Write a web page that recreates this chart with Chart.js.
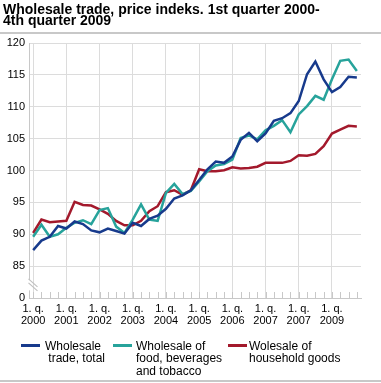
<!DOCTYPE html>
<html>
<head>
<meta charset="utf-8">
<script src="https://cdn.jsdelivr.net/npm/chart.js@4.4.0/dist/chart.umd.min.js"></script>
<style>
  html, body { margin: 0; padding: 0; background: #fff; }
  #wrap { position: relative; width: 381px; height: 383px; overflow: hidden; font-family: "Liberation Sans", Arial, sans-serif; }
  #title { position: absolute; left: 3px; top: 4px; font-weight: bold; font-size: 14px; line-height: 11.3px; color: #000; white-space: nowrap; }
  .hr { position: absolute; left: 0; width: 381px; height: 2px; background: #c8c8c8; }
  canvas { position: absolute; left: 0; top: 0; }
  .leg { position: absolute; font-size: 12px; line-height: 12.3px; color: #000; white-space: nowrap; }
  .sw { position: absolute; height: 3px; }
</style>
</head>
<body>
<div id="wrap">
  <canvas id="c" width="381" height="383"></canvas>
  <div id="title">Wholesale trade, price indeks. 1st quarter 2000-<br>4th quarter 2009</div>
  <div class="hr" style="top:32px"></div>
  <div class="sw" style="left:21px;top:344px;width:19px;background:#173a8c"></div>
  <div class="leg" style="left:45px;top:340px">Wholesale<br>&nbsp;trade, total</div>
  <div class="sw" style="left:113px;top:344px;width:19px;background:#27a39b"></div>
  <div class="leg" style="left:136px;top:340px">Wholesale of<br>food, beverages<br>and tobacco</div>
  <div class="sw" style="left:228px;top:344px;width:19px;background:#a3192c"></div>
  <div class="leg" style="left:249px;top:340px">Wolesale of<br>household goods</div>
  <div class="hr" style="top:380px"></div>
</div>
<script>
const quarterCount = 40;
const yearLabels = ["2000","2001","2002","2003","2004","2005","2006","2007","2007","2009"];
const seriesNames = ["Wholesale trade, total","Wholesale of food, beverages and tobacco","Wolesale of household goods"];
const totalValues = [87.5, 89.0, 89.6, 91.3, 90.9, 92.0, 91.6, 90.6, 90.3, 90.9, 90.5, 90.1, 91.8, 91.3, 92.4, 92.9, 94.0, 95.6, 96.1, 96.9, 98.5, 100.2, 101.4, 101.2, 102.2, 104.8, 105.9, 104.6, 105.8, 107.8, 108.2, 109.0, 110.9, 115.1, 117.1, 114.3, 112.3, 113.1, 114.7, 114.6];
const foodValues = [89.6, 91.5, 89.6, 90.0, 91.0, 91.8, 92.2, 91.6, 93.8, 94.1, 91.2, 90.2, 92.3, 94.7, 92.3, 92.1, 96.5, 97.9, 96.3, 96.8, 98.3, 99.9, 100.8, 101.0, 101.7, 105.1, 105.5, 104.9, 106.3, 107.0, 107.9, 106.0, 108.8, 110.1, 111.7, 111.1, 114.3, 117.2, 117.4, 115.6];
const householdValues = [90.2, 92.3, 91.9, 92.0, 92.1, 95.1, 94.6, 94.5, 93.9, 93.2, 92.1, 91.4, 91.4, 92.1, 93.6, 94.4, 96.6, 96.9, 96.2, 96.9, 100.2, 99.9, 99.9, 100.05, 100.5, 100.3, 100.4, 100.6, 101.2, 101.2, 101.2, 101.5, 102.4, 102.3, 102.6, 103.8, 105.8, 106.4, 107.0, 106.9];
const yTickValues = [80, 85, 90, 95, 100, 105, 110, 115, 120];
const yTickText = ["0", "85", "90", "95", "100", "105", "110", "115", "120"];

const toPts = arr => arr.map((v, i) => ({x: i, y: v}));

const axisDecor = {
  id: 'axisDecor',
  afterDatasetsDraw(chart) {
    const ctx = chart.ctx, xs = chart.scales.x, ys = chart.scales.y, ca = chart.chartArea;
    ctx.save();
    ctx.strokeStyle = '#c8c8c8';
    ctx.lineWidth = 1;
    for (let i = 0; i < quarterCount; i++) {
      const px = Math.round(xs.getPixelForValue(i)) + 0.5;
      ctx.beginPath(); ctx.moveTo(px, ca.bottom); ctx.lineTo(px, ca.bottom - 6); ctx.stroke();
    }
    const lx = ca.left + 0.5;
    ctx.beginPath(); ctx.moveTo(lx, ca.top); ctx.lineTo(lx, ys.getPixelForValue(82.8)); ctx.stroke();
    ctx.beginPath(); ctx.moveTo(lx, ys.getPixelForValue(81.2)); ctx.lineTo(lx, ca.bottom); ctx.stroke();
    const by = ys.getPixelForValue(81.9);
    ctx.strokeStyle = '#c0c0c0';
    ctx.lineWidth = 1.2;
    for (const off of [-2, 2]) {
      ctx.beginPath(); ctx.moveTo(lx - 1, by - 5 + off); ctx.lineTo(lx + 8, by + 3 + off); ctx.stroke();
    }
    ctx.restore();
  }
};

new Chart(document.getElementById('c'), {
  type: 'line',
  data: {
    datasets: [
      { label: seriesNames[0], data: toPts(totalValues), borderColor: '#173a8c', backgroundColor: '#173a8c' },
      { label: seriesNames[1], data: toPts(foodValues), borderColor: '#27a39b', backgroundColor: '#27a39b' },
      { label: seriesNames[2], data: toPts(householdValues), borderColor: '#a3192c', backgroundColor: '#a3192c' }
    ]
  },
  options: {
    responsive: false,
    animation: false,
    devicePixelRatio: 1,
    layout: { padding: { left: 0, right: 20, top: 43, bottom: 55 } },
    elements: { line: { borderWidth: 2.5, tension: 0 }, point: { radius: 0 } },
    plugins: { legend: { display: false }, tooltip: { enabled: false }, title: { display: false } },
    scales: {
      x: {
        type: 'linear', min: -0.5, max: 39.5,
        afterBuildTicks(scale) { scale.ticks = yearLabels.map((_, k) => ({ value: k * 4 })); },
        afterFit(scale) { scale.height = 30; },
        grid: { color: '#dcdcdc', lineWidth: 1, drawTicks: false },
        border: { display: true, color: '#c8c8c8' },
        ticks: {
          autoSkip: false, maxRotation: 0, padding: 5, color: '#000',
          font: { family: '"Liberation Sans", Arial, sans-serif', size: 11, lineHeight: 1.1 },
          callback(v) { const k = Math.round(v / 4); return ["1. q.", yearLabels[k]]; }
        }
      },
      y: {
        type: 'linear', min: 80, max: 120,
        afterBuildTicks(scale) { scale.ticks = yTickValues.map(v => ({ value: v })); },
        afterFit(scale) { scale.width = 29; },
        grid: { color: ctx => ctx.tick && ctx.tick.value === 80 ? 'rgba(0,0,0,0)' : '#dcdcdc', lineWidth: 1, drawTicks: false },
        border: { display: false },
        ticks: {
          padding: 4, color: '#000',
          font: { family: '"Liberation Sans", Arial, sans-serif', size: 11 },
          callback(v) { const k = yTickValues.indexOf(v); return k >= 0 ? yTickText[k] : ''; }
        }
      }
    }
  },
  plugins: [axisDecor]
});
</script>
</body>
</html>
